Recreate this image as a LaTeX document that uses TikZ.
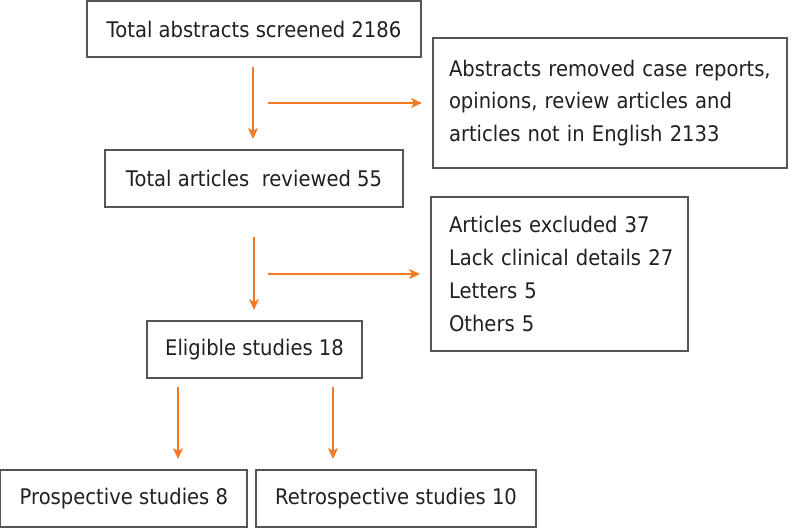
\documentclass[tikz,border=0pt]{standalone}
\usepackage{fontspec}
\setmainfont{DejaVu Sans}[FakeStretch=0.91]
\usetikzlibrary{arrows.meta}
\definecolor{txt}{HTML}{231F20}
\definecolor{boxline}{HTML}{595353}
\definecolor{arr}{HTML}{F47920}
\begin{document}
\begin{tikzpicture}[x=1pt,y=-1pt,
  box/.style={draw=boxline, line width=1.2pt, inner sep=0pt, text=txt,
    font=\fontsize{21.5}{32.7}\selectfont},
  listbox/.style={box, align=left},
  flow/.style={draw=arr, line width=1.4pt,
    -{Stealth[length=11pt,width=10pt,inset=3pt]}}]
\useasboundingbox (0,0) rectangle (797,528);
% boxes
\node[box, minimum width=334pt, minimum height=56pt] (b1) at (254,29)
  {Total abstracts screened 2186};
\node[listbox, minimum width=354pt, minimum height=130pt, inner xsep=16pt,
  text width=322pt] (b2) at (610,103)
  {\mbox{Abstracts removed case reports,}\\
   \mbox{opinions, review articles and}\\
   \mbox{articles not in English 2133}};
\node[box, minimum width=298pt, minimum height=57pt] (b3) at (254,178.5)
  {Total articles~ reviewed 55};
\node[listbox, minimum width=257pt, minimum height=154pt, inner xsep=18pt,
  text width=221pt] (b4) at (559.5,274)
  {\mbox{Articles excluded 37}\\
   \mbox{Lack clinical details 27}\\
   \mbox{Letters 5}\\
   \mbox{Others 5}};
\node[box, minimum width=215pt, minimum height=57pt] (b5) at (254.5,349.5)
  {Eligible studies 18};
\node[box, minimum width=246.3pt, minimum height=57pt] (b6) at (123.9,498.5)
  {Prospective studies 8};
\node[box, minimum width=280pt, minimum height=57pt] (b7) at (396,498.5)
  {Retrospective studies 10};
% arrow end points
\coordinate (a1s) at (253,67);  \coordinate (a1e) at (253,139);
\coordinate (a2s) at (268,103); \coordinate (a2e) at (422,103);
\coordinate (a3s) at (254,237); \coordinate (a3e) at (254,310);
\coordinate (a4s) at (268,274); \coordinate (a4e) at (420,274);
\coordinate (a5s) at (178,387); \coordinate (a5e) at (178,459);
\coordinate (a6s) at (333,387); \coordinate (a6e) at (333,459);
\draw[flow] (a1s) -- (a1e);
\draw[flow] (a2s) -- (a2e);
\draw[flow] (a3s) -- (a3e);
\draw[flow] (a4s) -- (a4e);
\draw[flow] (a5s) -- (a5e);
\draw[flow] (a6s) -- (a6e);
\end{tikzpicture}
\end{document}
